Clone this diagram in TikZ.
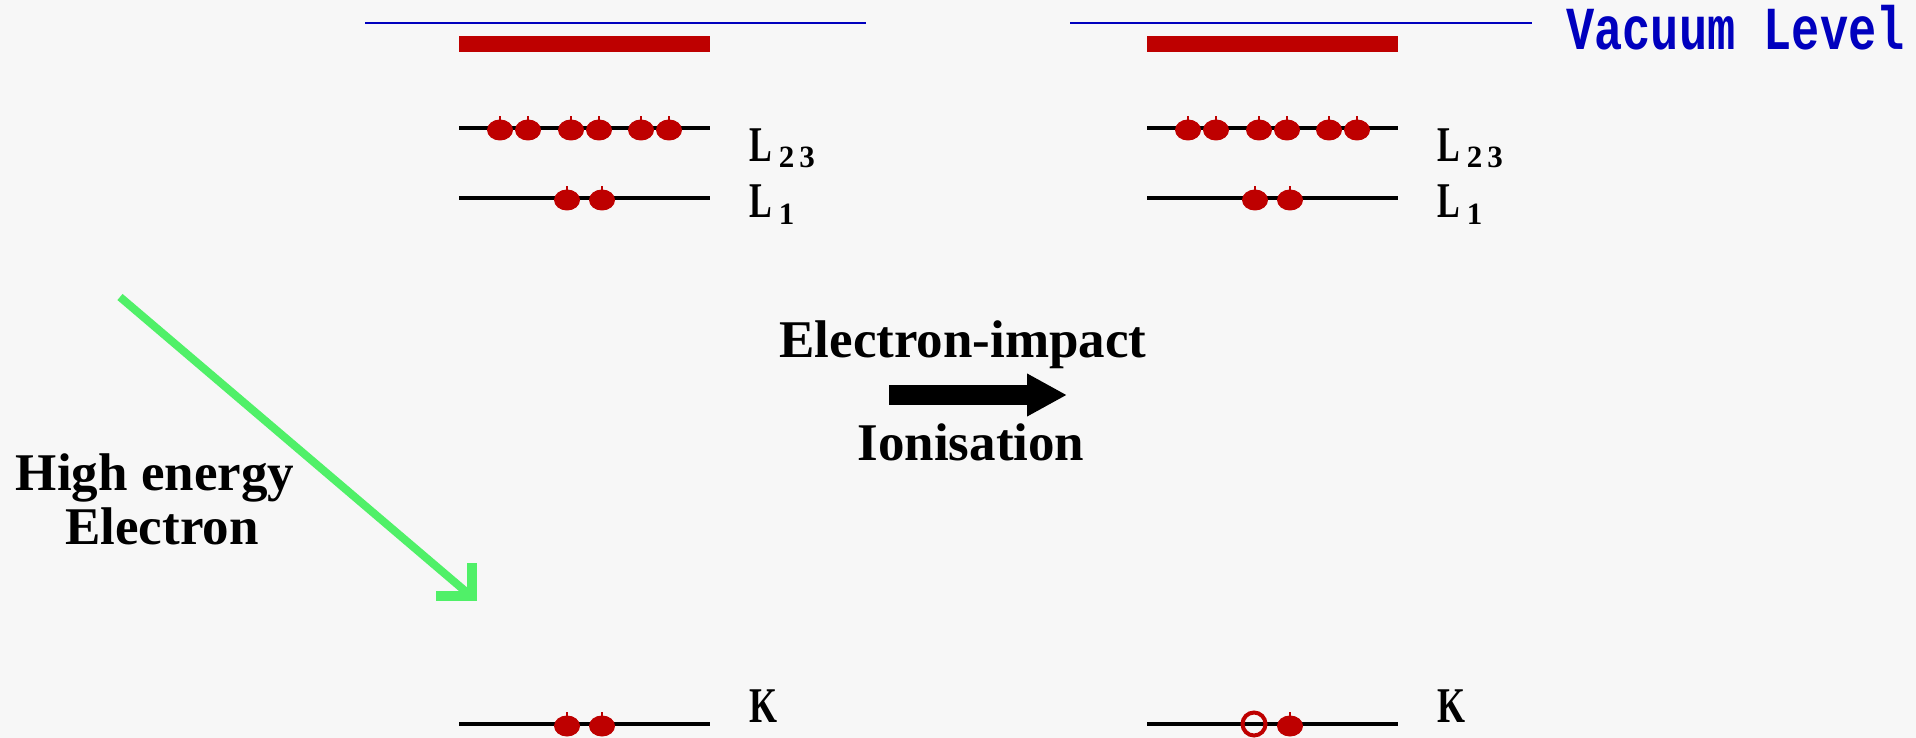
\documentclass[tikz,border=0pt]{standalone}
\usepackage{fontspec}
\usepackage{graphicx}
\setmainfont{Liberation Serif}
\newfontfamily\vacfont{Liberation Mono}
\usetikzlibrary{arrows.meta,shapes.geometric}
\definecolor{bg}{HTML}{F7F7F7}
\definecolor{ered}{HTML}{BE0000}
\definecolor{vblue}{HTML}{0000BE}
\definecolor{egreen}{HTML}{50F068}
\tikzset{
  levelline/.style={line width=4pt, black},
  vacline/.style={vblue, line width=2pt},
  contband/.style={ered, line width=16pt},
  txt/.style={font=\fontsize{53}{60}\selectfont\bfseries, inner sep=0pt, anchor=base},
  lbl/.style={font=\fontsize{50}{50}\selectfont\bfseries, inner sep=0pt, anchor=base west},
  electron/.pic={\fill[ered] (0,2) ellipse [x radius=13, y radius=10.5];
                 \fill[ered] (-1,-12) rectangle (1,-7);},
  hole/.pic={\draw[ered, line width=4pt] (0,0) circle [radius=11.5];}
}
\newcommand{\Lsub}[1]{\scalebox{0.68}[1]{L}\kern7pt\raisebox{-6pt}{\fontsize{31}{31}\selectfont #1}}
\begin{document}
\begin{tikzpicture}[x=1pt,y=-1pt]
\fill[bg] (0,0) rectangle (1916,738);
\useasboundingbox (0,0) rectangle (1916,738);
% vacuum level
\draw[vacline] (365,23) -- (866,23);
\draw[vacline] (1070,23) -- (1532,23);
\node[font=\vacfont\bfseries\fontsize{47}{47}\selectfont, text=vblue, inner sep=0pt, anchor=base west] (vac) at (1566,50) {\scalebox{1}[1.3]{Vacuum Level}};
% two panels
\foreach \ox/\nm in {459/A,1147/B}{
  \draw[contband] (\ox,44) -- ++(251,0);
  \draw[levelline] (\ox,128) -- ++(251,0);
  \draw[levelline] (\ox,198) -- ++(251,0);
  \draw[levelline] (\ox,724) -- ++(251,0);
  \foreach \d in {41,69,112,140,182,210}{ \pic at (\ox+\d,128) {electron}; }
  \foreach \d in {108,143}{ \pic at (\ox+\d,198) {electron}; }
  \node[lbl] (L23\nm) at (\ox+290,162) {\Lsub{2\kern5pt 3}};
  \node[lbl] (L1\nm) at (\ox+290,218) {\Lsub{1}};
  \node[lbl] (K\nm) at (\ox+290,722) {\scalebox{0.72}[1]{K}};
}
\pic at (459+108,724) {electron};
\pic at (459+143,724) {electron};
\pic at (1147+107,724) {hole};
\pic at (1147+143,724) {electron};
% incoming electron
\node[txt] (he1) at (155,490) {High energy};
\node[txt] (he2) at (162,544) {Electron};
\coordinate (g0) at (120,297);
\coordinate (g1) at (471,596);
\draw[egreen, line width=8pt] (g0) -- (g1);
\draw[egreen, line width=10pt] ([xshift=1pt,yshift=33pt]g1) -- ([xshift=1pt]g1) -- ([xshift=-35pt]g1);
% process arrow
\node[txt] (ei) at (963,357) {Electron-impact};
\node[txt] (ion) at (971,460) {Ionisation};
\coordinate (a0) at (889,395);
\coordinate (a1) at (1067,395);
\draw[black, line width=20pt, -{Triangle[length=40pt,width=40pt]}] (a0) -- (a1);
\end{tikzpicture}
\end{document}
